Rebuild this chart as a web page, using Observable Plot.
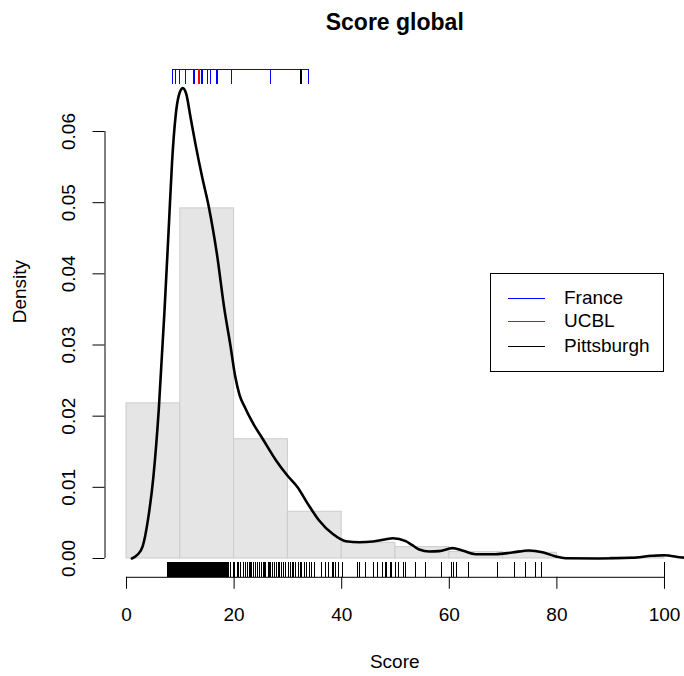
<!DOCTYPE html>
<html><head><meta charset="utf-8">
<script src="https://cdn.jsdelivr.net/npm/d3@7"></script>
<script src="https://cdn.jsdelivr.net/npm/@observablehq/plot@0.6"></script>
<style>
body{margin:0;background:#fff;font-family:"Liberation Sans",Arial,Helvetica,sans-serif;}
#wrap{position:relative;width:684px;height:676px;overflow:hidden;}
#legend{position:absolute;left:490px;top:273px;width:174px;height:99px;border:1px solid #000;background:#fff;box-sizing:border-box;font-size:19px;color:#000;}
.sw{position:absolute;left:17px;width:37px;height:1px;}
.lb{position:absolute;left:73px;line-height:22px;white-space:nowrap;}
</style></head>
<body><div id="wrap"></div>
<script>
// ---- data ----
const title = "Score global";
const xLabel = "Score";
const yLabel = "Density";
const xTicks = [0, 20, 40, 60, 80, 100];
const yTicks = [0, 0.01, 0.02, 0.03, 0.04, 0.05, 0.06];

// histogram (density scale)
const binLeft  = [0, 10, 20, 30, 40, 50, 60, 70, 80, 90];
const binRight = [10, 20, 30, 40, 50, 60, 70, 80, 90, 100];
const binDensity = [0.0218, 0.0492, 0.01676, 0.00656, 0.0022, 0.0016, 0.0009, 0.0008, 0, 0.0002];

// kernel density curve
const densX = [1.0, 2.0, 3.0, 4.0, 5.0, 6.0, 7.06, 7.86, 8.48, 9.1, 9.7, 10.46, 11.1, 11.9, 12.8, 14.06, 15.3, 16.8, 18.2, 19.3, 20.2, 21.0,
  22.0, 23.4, 25.3, 27.8, 29.9, 31.8, 33.7, 35.8, 38.3, 40.8, 43.3, 45.8, 48.0, 49.5, 51.9, 53.2, 54.4, 56.3, 58.1, 60.6, 62.4,
  64.9, 68.6, 71.7, 74.8, 77.3, 79.8, 81.6, 87.8, 94.0, 97.7, 99.9, 103.3, 106.0];
const densY = [0.0000, 0.0005, 0.0017, 0.0055, 0.0115, 0.0210, 0.0348, 0.0466, 0.0559, 0.0620, 0.0650, 0.0661, 0.0653, 0.0620, 0.0583, 0.0536, 0.0494, 0.0428, 0.0350, 0.0300, 0.0256, 0.0230,
  0.02126, 0.01915, 0.01682, 0.01377, 0.01166, 0.01002, 0.00768, 0.00534, 0.00347, 0.00243, 0.00229, 0.00239, 0.00267, 0.00285, 0.00243, 0.00183, 0.00126, 0.00098, 0.00103, 0.00145, 0.00112,
  0.0006, 0.0006, 0.00084, 0.00112, 0.00089, 0.00028, 0.00004, 0.0, 0.0001, 0.00038, 0.00046, 0.00014, 0.00002];

// bottom rug: all scores
const scores = [7.7, 7.85, 8.0, 8.15, 8.3, 8.45, 8.6, 8.75, 8.9, 9.05, 9.2, 9.35, 9.5, 9.65, 9.8, 9.95, 10.1, 10.25, 10.4, 10.55, 10.7, 10.85, 11.0, 11.15, 11.3, 11.45, 11.6, 11.75, 11.9, 12.05, 12.2, 12.35, 12.5, 12.65, 12.8, 12.95, 13.1, 13.25, 13.4, 13.55, 13.7, 13.85, 14.0, 14.15, 14.3, 14.45, 14.6, 14.75, 14.9, 15.05, 15.2, 15.35, 15.5, 15.65, 15.8, 15.95, 16.1, 16.25, 16.4, 16.55, 16.7, 16.85, 17.0, 17.15, 17.3, 17.45, 17.6, 17.75, 17.9, 18.05, 18.2, 18.4, 18.6, 18.75,
  19.0, 19.4, 19.8, 20.05, 20.7, 20.9, 21.2, 21.7, 22.1, 22.5, 22.8, 23.0, 23.3, 23.6, 24.0, 24.3, 24.75, 25.1, 25.4, 25.6, 25.9, 26.3, 26.6, 26.8, 27.1, 27.5, 27.9, 28.2, 28.4, 28.8, 29.1, 29.6, 30.2, 30.5, 30.8, 31.1, 31.5, 31.9, 32.3, 32.6, 33.0, 33.5, 34.0, 34.4,
  35.0, 36.3, 36.9, 37.6, 38.2, 38.5, 38.8, 39.4, 40.1, 43.0, 43.3, 44.4, 45.9, 46.6, 47.5, 48.1, 48.4, 49.0, 49.3, 50.0, 50.6, 51.5, 51.8, 53.7, 55.5, 58.6, 60.5, 60.8, 61.3, 63.6, 68.9, 72.2, 74.1, 76.1, 77.2, 100];

// top rug: groups
const france = [8.5, 9.1, 9.9, 11.0, 12.4, 12.7, 14.0, 14.2, 15.0, 15.6, 16.7, 16.85, 19.5, 26.7, 33.85];
const ucbl = [13.5];
const pittsburgh = [32.45];
const legendLabels = ["France", "UCBL", "Pittsburgh"];
const legendColors = ["#0000ff", "#ff0000", "#000000"];

// ---- build ----
const bins = binLeft.map((l, i) => ({x1: l, x2: binRight[i], y: binDensity[i]}));
const dens = densX.map((x, i) => ({x, y: densY[i]}));
const yMax = d3.max(densY);
const yDomain = [-0.04 * yMax, yMax * 1.04];
const xSpan = xTicks[xTicks.length - 1] - xTicks[0];
const xDomain = [xTicks[0] - 0.04 * xSpan, xTicks[xTicks.length - 1] + 0.04 * xSpan];

const W = 684, H = 676;
const mL = 104.5, mT = 68.8, mB = 99.2, mR = 0;
const frameH = H - mT - mB;
const font = '"Liberation Sans", Arial, Helvetica, sans-serif';

const chart = Plot.plot({
  width: W, height: H,
  marginLeft: mL, marginRight: mR, marginTop: mT, marginBottom: mB,
  style: {fontFamily: font, background: "#fff", color: "#000", overflow: "visible"},
  x: {domain: xDomain, range: [mL, 685.5]},
  y: {domain: yDomain},
  marks: [
    Plot.rectY(bins, {x1: "x1", x2: "x2", y1: 0, y2: "y", fill: "#e5e5e5", stroke: "#cccccc", strokeWidth: 1}),
    Plot.line(dens, {x: "x", y: "y", stroke: "#000", strokeWidth: 2.6, curve: "monotone-x", clip: true}),
    // bottom rug
    Plot.ruleX(scores, {x: d => d, stroke: "#000", strokeWidth: 1, insetTop: frameH * 0.97, shapeRendering: "crispEdges"}),
    // top rug
    Plot.ruleY([yDomain[1]], {x1: d3.min(france), x2: d3.max(france), stroke: "#0000ff", strokeWidth: 1, shapeRendering: "crispEdges"}),
    Plot.ruleX(france, {x: d => d, stroke: "#0000ff", strokeWidth: 1, insetBottom: frameH * 0.97, shapeRendering: "crispEdges"}),
    Plot.ruleX(ucbl, {x: d => d, stroke: "#ff0000", strokeWidth: 2, insetBottom: frameH * 0.97, shapeRendering: "crispEdges"}),
    Plot.ruleX(pittsburgh, {x: d => d, stroke: "#000", strokeWidth: 2, insetBottom: frameH * 0.97, shapeRendering: "crispEdges"}),
    // axes
    Plot.ruleY([yDomain[0]], {x1: xTicks[0], x2: xTicks[xTicks.length - 1], stroke: "#000"}),
    Plot.axisX({ticks: xTicks, tickSize: 12, tickPadding: 18, fontSize: 19, label: null, tickFormat: d => String(d)}),
    Plot.ruleX([xDomain[0]], {y1: yTicks[0], y2: yTicks[yTicks.length - 1], stroke: "#000"}),
    Plot.axisY({ticks: yTicks, tickSize: 12, fontSize: 19, label: null, tickFormat: () => ""}),
    Plot.text(yTicks, {y: d => d, text: d => d.toFixed(2), frameAnchor: "left", dx: -36.5, rotate: -90, fontSize: 19, textAnchor: "middle", lineAnchor: "middle", fill: "#000"}),
    Plot.text([xLabel], {text: d => d, frameAnchor: "bottom", dy: 85, fontSize: 19, lineAnchor: "middle", fill: "#000"}),
    Plot.text([yLabel], {text: d => d, frameAnchor: "left", dx: -85.5, rotate: -90, fontSize: 19, lineAnchor: "middle", fill: "#000"}),
    Plot.text([title], {text: d => d, frameAnchor: "top", dy: -39.5, fontSize: 23, fontWeight: "bold", lineAnchor: "bottom", fill: "#000"})
  ]
});
const wrap = document.getElementById("wrap");
wrap.appendChild(chart);

const lg = document.createElement("div");
lg.id = "legend";
const rowY = [25, 48, 73];
legendLabels.forEach((lab, i) => {
  const sw = document.createElement("div");
  sw.className = "sw";
  sw.style.top = (rowY[i] - 1) + "px";
  sw.style.background = legendColors[i];
  lg.appendChild(sw);
  const t = document.createElement("div");
  t.className = "lb";
  t.style.top = (rowY[i] - 12) + "px";
  t.textContent = lab;
  lg.appendChild(t);
});
wrap.appendChild(lg);
</script></body></html>
